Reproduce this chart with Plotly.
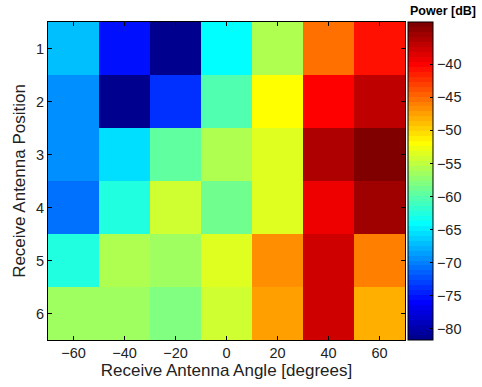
import plotly.graph_objects as go

angles = [-60, -40, -20, 0, 20, 40, 60]
positions = [1, 2, 3, 4, 5, 6]
power_row1 = [-67.0, -75.3, -81.3, -64.0, -55.8, -45.2, -40.6]
power_row2 = [-69.3, -81.3, -73.8, -60.3, -52.0, -40.0, -37.0]
power_row3 = [-69.3, -65.5, -59.5, -55.8, -53.5, -36.2, -34.0]
power_row4 = [-70.8, -62.5, -54.3, -58.8, -53.5, -39.2, -35.5]
power_row5 = [-62.5, -55.8, -56.5, -53.5, -46.7, -37.7, -45.9]
power_row6 = [-56.5, -56.5, -58.1, -54.3, -47.5, -37.7, -48.3]
cbar_ticks = [-80, -75, -70, -65, -60, -55, -50, -45, -40]

z = [power_row1, power_row2, power_row3, power_row4, power_row5, power_row6]
zmin, zmax = -81.7, -33.6


def jet64(i):
    x = i + 1
    def clip(v):
        return max(0.0, min(1.0, v))
    r = clip(min((x - 24) / 16, (72 - x) / 16))
    g = clip(min((x - 8) / 16, (56 - x) / 16))
    b = clip(min((x + 8) / 16, (40 - x) / 16))
    return "rgb(%d,%d,%d)" % (round(r * 255), round(g * 255), round(b * 255))


cscale = []
for i in range(64):
    c = jet64(i)
    cscale.append([i / 64, c])
    cscale.append([(i + 1) / 64, c])

FONT = "Liberation Sans, Arial"

fig = go.Figure(go.Heatmap(
    x=angles, y=positions, z=z, zmin=zmin, zmax=zmax,
    colorscale=cscale,
    colorbar=dict(
        x=1.008, xanchor="left", y=0.5, yanchor="middle", len=1.0, lenmode="fraction",
        thickness=25, outlinewidth=1, outlinecolor="black",
        tickvals=cbar_ticks, ticks="inside", ticklen=3, tickcolor="black",
        tickfont=dict(family=FONT, size=14.5, color="#222"),
        xpad=0, ypad=0,
    ),
))

fig.update_layout(
    width=482, height=387,
    margin=dict(l=48, r=77, t=22, b=47),
    paper_bgcolor="white", plot_bgcolor="white",
    font=dict(family=FONT, size=14.5, color="#222"),
    xaxis=dict(
        range=[-70, 70], tickvals=angles, ticks="inside", ticklen=4, tickcolor="black",
        showline=True, linecolor="black", linewidth=1, mirror="ticks",
        showgrid=False, zeroline=False,
        title=dict(text="Receive Antenna Angle [degrees]", font=dict(size=17), standoff=0),
    ),
    yaxis=dict(
        range=[6.5, 0.5], tickvals=positions, ticks="inside", ticklen=4, tickcolor="black",
        showline=True, linecolor="black", linewidth=1, mirror="ticks",
        showgrid=False, zeroline=False,
        title=dict(text="Receive Antenna Position", font=dict(size=17), standoff=6),
    ),
    annotations=[dict(
        text="<b>Power [dB]</b>", xref="paper", yref="paper",
        x=1.0 + (478 - 405) / 357, y=1.0 + 11 / 318, xanchor="right", yanchor="middle",
        showarrow=False, font=dict(size=12.5, color="black"),
    )],
)

fig.write_html("out.html")
